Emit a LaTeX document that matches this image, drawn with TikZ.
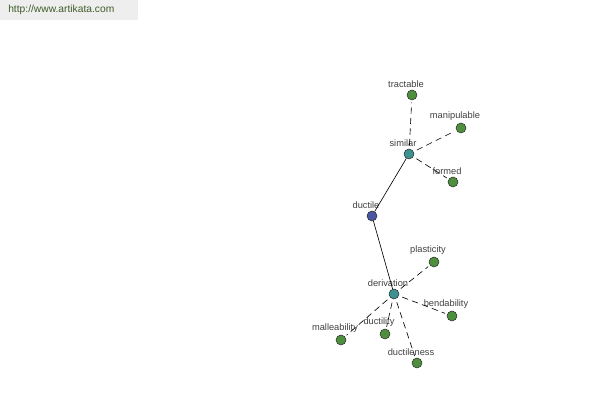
\documentclass[tikz,border=0pt]{standalone}
\usepackage{fontspec}
\setmainfont{Liberation Sans}
\usepackage{tikz}
\usetikzlibrary{arrows}

\definecolor{leafgreen}{HTML}{4E8F3E}
\definecolor{hubteal}{HTML}{3F9090}
\definecolor{rootblue}{HTML}{4A57A0}
\definecolor{markgray}{HTML}{EEEEEE}
\definecolor{markgreen}{HTML}{3F5E2A}

\tikzset{
  word/.style={circle, draw=black!85, line width=0.35pt, inner sep=0pt, minimum size=0.25cm},
  leaf/.style={word, fill=leafgreen},
  hub/.style={word, fill=hubteal},
  root/.style={word, fill=rootblue},
  lbl/.style={font=\fontsize{6.6}{7}\selectfont, text=black!75, inner sep=0pt, xshift=-0.15cm},
  rel/.style={line width=0.45pt, dash pattern=on 4.5pt off 3pt, shorten <=2.5pt, shorten >=1.5pt},
  syn/.style={line width=0.45pt}
}

\begin{document}
\begin{tikzpicture}[label distance=1.6pt]
\useasboundingbox (0,0) rectangle (15,10);
\fill[markgray] (0,10) rectangle (3.45,9.5);
\node(site) at (0.2,9.75) [anchor=west, inner sep=0pt, text=markgreen, font=\fontsize{7.3}{8}\selectfont] {http://www.artikata.com};
%
\node(ductile) at (9.30,4.60) [root, label={[lbl]90:ductile}] {};
%
\node(similar) at (10.225,6.15) [hub, label={[lbl]90:similar}] {};
\draw[syn](ductile) -- (similar) {};
%
\node(tractable) at (10.30,7.625) [leaf, label={[lbl]90:tractable}] {};
\node(manipulable) at (11.525,6.80) [leaf, label={[lbl]90:manipulable}] {};
\node(formed) at (11.325,5.45) [leaf, label={[lbl]90:formed}] {};
\draw[rel](similar) -- (tractable) {};
\draw[rel](similar) -- (manipulable) {};
\draw[rel](similar) -- (formed) {};
%
\node(derivation) at (9.85,2.65) [hub, label={[lbl]90:derivation}] {};
\draw[syn](ductile) -- (derivation) {};
%
\node(plasticity) at (10.85,3.45) [leaf, label={[lbl]90:plasticity}] {};
\node(bendability) at (11.30,2.10) [leaf, label={[lbl]90:bendability}] {};
\node(malleability) at (8.525,1.50) [leaf, label={[lbl]90:malleability}] {};
\node(ductility) at (9.625,1.65) [leaf, label={[lbl]90:ductility}] {};
\node(ductileness) at (10.425,0.925) [leaf, label={[lbl]90:ductileness}] {};
\draw[rel](derivation) -- (plasticity) {};
\draw[rel](derivation) -- (bendability) {};
\draw[rel](derivation) -- (malleability) {};
\draw[rel](derivation) -- (ductility) {};
\draw[rel](derivation) -- (ductileness) {};
\end{tikzpicture}
\end{document}
